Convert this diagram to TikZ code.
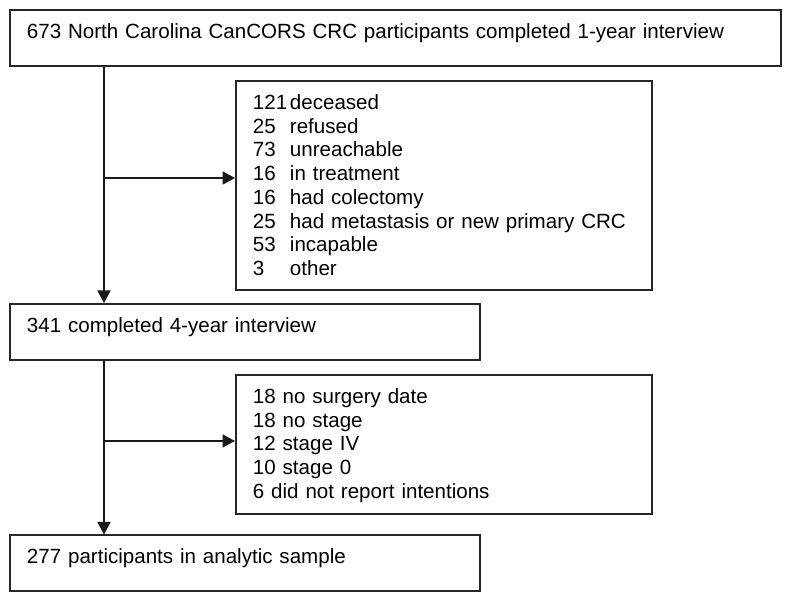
\documentclass[tikz,border=0pt]{standalone}
\usepackage{fontspec}
\setmainfont{Liberation Sans}
\usepackage{tikz}
\usetikzlibrary{arrows.meta,positioning}

\begin{document}
\begin{tikzpicture}[
            box/.style={rectangle, draw=black!85, line width=1.1pt, anchor=north west, inner xsep=0.34cm, inner ysep=0pt, text height=0.57cm, align=left},
            arrow/.style={-{Triangle[length=0.25cm,width=0.26cm]}, line width=1pt, black!90},
            font=\fontsize{11.7}{13.5}\selectfont
        ]
            \useasboundingbox (0,0) rectangle (15.78,-12.02);
            \node[box, text width=14.74cm, text depth=0.55cm] (start) at (0.18,-0.19) {673 North Carolina CanCORS CRC participants completed 1-year interview};
            \node[box, text width=7.64cm, text depth=3.61cm] (excl1) at (4.70,-1.60) {\begin{tabular}[t]{@{}p{0.74cm}@{}l@{}}
                121 & deceased\\
                25 & refused\\
                73 & unreachable\\
                16 & in treatment\\
                16 & had colectomy\\
                25 & had metastasis or new primary CRC\\
                53 & incapable\\
                3 & other
            \end{tabular}};
            \node[box, text width=8.72cm, text depth=0.55cm] (followup) at (0.18,-6.06) {341 completed 4-year interview};
            \node[box, text width=7.64cm, text depth=2.21cm] (excl2) at (4.70,-7.48) {\begin{tabular}[t]{@{}l@{}}
                18 no surgery date\\
                18 no stage\\
                12 stage IV\\
                10 stage 0\\
                6 did not report intentions
            \end{tabular}};
            \node[box, text width=8.72cm, text depth=0.55cm] (sample) at (0.18,-10.69) {277 participants in analytic sample};

            % spine and branch points
            \coordinate (spine) at (2.08,0);
            \coordinate (split1) at (2.08,-3.56);
            \coordinate (split2) at (2.08,-8.82);

            \draw[arrow] (start.south -| spine) -- (followup.north -| spine);
            \draw[arrow] (split1) -- (split1 -| excl1.west);
            \draw[arrow] (followup.south -| spine) -- (sample.north -| spine);
            \draw[arrow] (split2) -- (split2 -| excl2.west);
        \end{tikzpicture}
\end{document}
